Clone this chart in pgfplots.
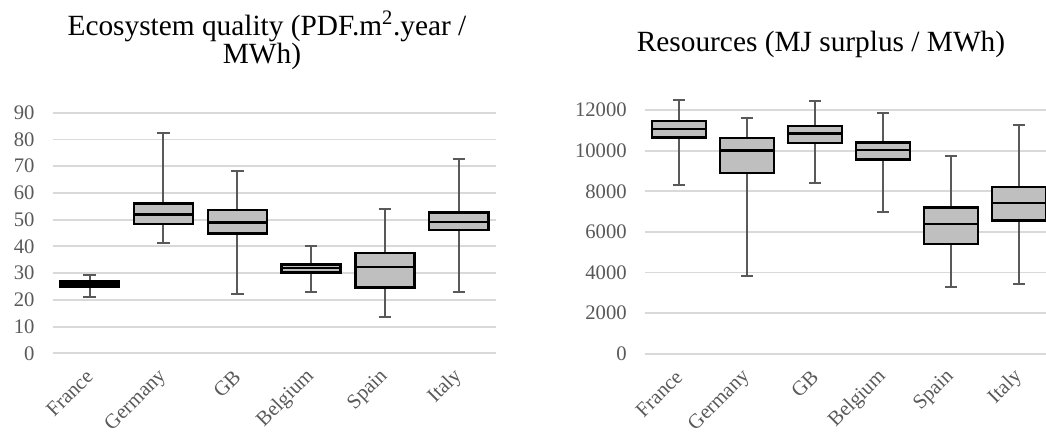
\documentclass[border=0pt]{standalone}
\usepackage{pgfplots}
\pgfplotsset{compat=1.18}
\usepgfplotslibrary{statistics}
\usepackage{fontspec}
\setmainfont{Liberation Serif}

\definecolor{boxfill}{HTML}{BFBFBF}
\definecolor{whiskc}{HTML}{595959}
\definecolor{gridc}{HTML}{D9D9D9}
\definecolor{labc}{HTML}{595959}

\pgfplotsset{
  countrybox/.style={
    scale only axis,
    clip=false,
    xmin=-0.5, xmax=5.5, ymin=0,
    axis line style={draw=none},
    major tick length=0pt,
    ymajorgrids,
    grid style={gridc, line width=1.4pt},
    xtick={0,...,5},
    xticklabels={France,Germany,GB,Belgium,Spain,Italy},
    tick label style={font=\fontsize{15.5}{18}\selectfont, text=labc},
    /pgf/number format/assume math mode=true,
    /pgf/number format/1000 sep={},
    scaled y ticks=false,
    yticklabel style={anchor=east, inner sep=0pt},
    yticklabel shift=13.5pt,
    xticklabel style={rotate=45, anchor=east, inner sep=0pt},
    xticklabel shift=15pt,
    boxplot/draw direction=y,
    boxplot/box extend=0.8,
    boxplot/whisker extend=0.17,
    boxplot/every box/.style={draw=black, line width=1.8pt, fill=boxfill},
    boxplot/every median/.style={draw=black, line width=1.8pt},
    boxplot/every whisker/.style={draw=whiskc, line width=1.5pt},
  },
}

\begin{document}
\begin{tikzpicture}

% Ecosystem quality, PDF.m2.year per MWh
\begin{axis}[countrybox,
  at={(39.53pt,-264.98pt)}, anchor=south west,
  width=332.25pt, height=180.45pt,
  ymax=90, ytick={0,10,...,90}]
\addplot[boxplot prepared={draw position=0, lower whisker=21.1, lower quartile=24.9, median=25.8, upper quartile=26.9, upper whisker=29.3}] coordinates {};
\addplot[boxplot prepared={draw position=1, lower whisker=41.3, lower quartile=48.4, median=51.9, upper quartile=56.1, upper whisker=82.4}] coordinates {};
\addplot[boxplot prepared={draw position=2, lower whisker=22.3, lower quartile=44.8, median=48.9, upper quartile=53.5, upper whisker=68.3}] coordinates {};
\addplot[boxplot prepared={draw position=3, lower whisker=22.9, lower quartile=30.3, median=31.9, upper quartile=33.2, upper whisker=40.3}] coordinates {};
\addplot[boxplot prepared={draw position=4, lower whisker=13.5, lower quartile=24.6, median=32.2, upper quartile=37.6, upper whisker=54.1}] coordinates {};
\addplot[boxplot prepared={draw position=5, lower whisker=22.8, lower quartile=46.1, median=49.1, upper quartile=52.7, upper whisker=72.7}] coordinates {};
\end{axis}

% Resources, in thousands of MJ surplus per MWh
\begin{axis}[countrybox,
  at={(483.75pt,-265.28pt)}, anchor=south west,
  width=306pt, height=191.9pt,
  ymax=12.6, ytick={0,2,...,12},
  yticklabels={0,2000,4000,6000,8000,10000,12000}]
\addplot[boxplot prepared={draw position=0, lower whisker=8.322, lower quartile=10.653, median=11.080, upper quartile=11.458, upper whisker=12.508}] coordinates {};
\addplot[boxplot prepared={draw position=1, lower whisker=3.841, lower quartile=8.913, median=10.013, upper quartile=10.621, upper whisker=11.605}] coordinates {};
\addplot[boxplot prepared={draw position=2, lower whisker=8.421, lower quartile=10.391, median=10.850, upper quartile=11.228, upper whisker=12.426}] coordinates {};
\addplot[boxplot prepared={draw position=3, lower whisker=6.960, lower quartile=9.570, median=10.046, upper quartile=10.407, upper whisker=11.835}] coordinates {};
\addplot[boxplot prepared={draw position=4, lower whisker=3.283, lower quartile=5.417, median=6.386, upper quartile=7.206, upper whisker=9.734}] coordinates {};
\addplot[boxplot prepared={draw position=5, lower whisker=3.414, lower quartile=6.566, median=7.420, upper quartile=8.208, upper whisker=11.261}] coordinates {};
\end{axis}

% chart titles
\node[anchor=base, font=\fontsize{22}{26}\selectfont] at (200.25pt,-26.25pt) {Ecosystem quality (PDF.m\textsuperscript{2}.year /};
\node[anchor=base, font=\fontsize{22}{26}\selectfont] at (196.5pt,-47.5pt) {MWh)};
\node[anchor=base, font=\fontsize{22}{26}\selectfont] at (615.75pt,-38.8pt) {Resources (MJ surplus / MWh)};

\pgfresetboundingbox
\path (0pt,0pt) rectangle (784.5pt,-324pt);
\end{tikzpicture}
\end{document}
